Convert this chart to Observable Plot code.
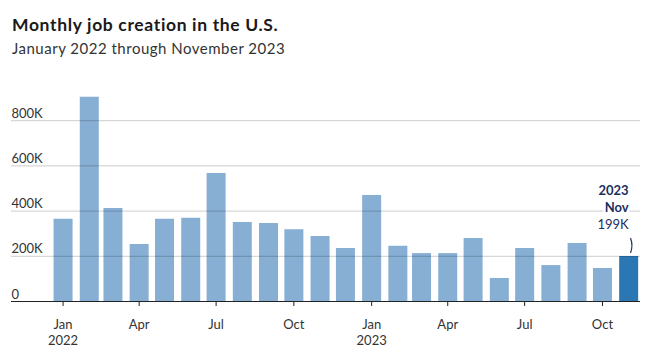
<!DOCTYPE html>
<html>
<head>
<meta charset="utf-8">
<script src="https://cdn.jsdelivr.net/npm/d3@7"></script>
<script src="https://cdn.jsdelivr.net/npm/@observablehq/plot@0.6"></script>
<style>
  html, body { margin: 0; padding: 0; background: #fff; }
  body { width: 652px; height: 357px; position: relative; overflow: hidden; font-family: Lato, "Noto Sans", sans-serif; }
  #title { position: absolute; left: 12px; top: 16px; font-size: 17.5px; line-height: 18px; font-weight: 700; color: #1a1a1a; white-space: nowrap; letter-spacing: 0.65px; }
  #subtitle { position: absolute; left: 12px; top: 41px; font-size: 15px; line-height: 15px; font-weight: 400; color: #333; white-space: nowrap; letter-spacing: 0.5px; }
  #chart { position: absolute; left: 0; top: 70px; }
  #chart svg { display: block; }
</style>
</head>
<body>
<div id="title">Monthly job creation in the U.S.</div>
<div id="subtitle">January 2022 through November 2023</div>
<div id="chart"></div>
<script>
// Months (first day of each month)
const months = [
  "2022-01","2022-02","2022-03","2022-04","2022-05","2022-06",
  "2022-07","2022-08","2022-09","2022-10","2022-11","2022-12",
  "2023-01","2023-02","2023-03","2023-04","2023-05","2023-06",
  "2023-07","2023-08","2023-09","2023-10","2023-11"
];
// Jobs added (thousands)
const jobs = [
  364, 904, 411, 252, 364, 368, 566, 350, 345, 318, 288, 234,
  469, 244, 212, 212, 279, 102, 234, 159, 257, 146, 199
];
const xTickMonths = ["2022-01","2022-04","2022-07","2022-10","2023-01","2023-04","2023-07","2023-10"];
const xTickLabels = ["Jan\n2022","Apr","Jul","Oct","Jan\n2023","Apr","Jul","Oct"];
const yTicks = [0, 200000, 400000, 600000, 800000];
const yTickLabels = ["0","200K","400K","600K","800K"];
const xDomain = ["2021-11-01", "2023-11-15"];
const annotationYear = "2023";
const annotationMonth = "Nov";

const parse = d3.utcParse("%Y-%m");
const data = months.map((m, i) => ({date: parse(m), value: jobs[i] * 1000, last: i === months.length - 1}));
const last = data[data.length - 1];
const tickDates = xTickMonths.map(parse);
const tickLabelOf = d => xTickLabels[tickDates.findIndex(t => +t === +d)];
const yLabelOf = d => yTickLabels[yTicks.indexOf(d)];

const navy = "#1b2f5c";
const light = "#87afd4";
const dark = "#2b77b4";

const chart = Plot.plot({
  width: 652,
  height: 287,
  marginLeft: 11,
  marginRight: 12,
  marginTop: 5,
  marginBottom: 56,
  style: {fontFamily: "Lato, 'Noto Sans', sans-serif", fontSize: "13px", color: "#333", background: "#fff"},
  x: {type: "utc", domain: xDomain.map(d => new Date(d))},
  y: {domain: [0, 1000000]},
  marks: [
    Plot.ruleX(data, {x: "date", y1: 0, y2: "value", stroke: d => d.last ? dark : light, strokeWidth: 19}),
    Plot.gridY(yTicks.filter(d => d > 0), {stroke: "#000", strokeOpacity: 0.2, strokeWidth: 1}),
    Plot.axisY({ticks: yTicks, tickFormat: yLabelOf, tickSize: 0, tickPadding: 0, textAnchor: "start", lineAnchor: "bottom", dy: -3, fontSize: 13, fill: "#333", label: null}),
    Plot.axisX({ticks: tickDates, tickFormat: tickLabelOf, tickSize: 5, tickPadding: 11, lineHeight: 1.25, fontSize: 13, fill: "#333", stroke: "#222", label: null}),
    Plot.ruleY([0], {stroke: "#222", strokeWidth: 1.2}),
    Plot.text([last], {x: "date", y: "value", text: d => annotationYear + "\n" + annotationMonth, textAnchor: "end", lineAnchor: "bottom", lineHeight: 1.3, dy: -45, fontWeight: 700, fontSize: 13, fill: navy, stroke: "white", strokeWidth: 5}),
    Plot.text([last], {x: "date", y: "value", text: d => Math.round(d.value / 1000) + "K", textAnchor: "end", lineAnchor: "bottom", dy: -28, fontSize: 13, fill: navy, stroke: "white", strokeWidth: 4}),
    Plot.arrow([last], {x1: "date", x2: "date", y1: d => d.value + 80000, y2: d => d.value + 18000, bend: 20, headLength: 0, stroke: navy, strokeWidth: 1.2, dx: 2})
  ]
});
document.getElementById("chart").appendChild(chart);
</script>
</body>
</html>
